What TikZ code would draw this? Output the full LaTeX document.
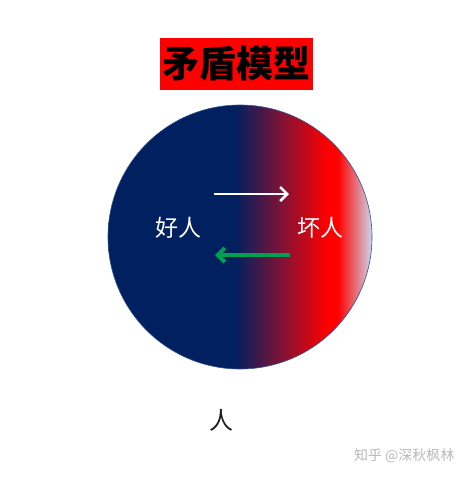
\documentclass[tikz,border=0pt]{standalone}
\usepackage{fontspec}
\usepackage{xcolor}
\usetikzlibrary{arrows.meta, positioning, calc}
\newfontfamily\cjk{Noto Sans CJK SC}
\definecolor{goodnavy}{RGB}{0, 32, 96}
\definecolor{badmaroon}{RGB}{130, 18, 52}
\definecolor{badred}{RGB}{255, 0, 0}
\definecolor{edgepale}{RGB}{205, 215, 235}
\definecolor{rimblue}{RGB}{47, 82, 143}
\definecolor{fightgreen}{RGB}{0, 160, 80}
\definecolor{inkdark}{RGB}{30, 30, 30}
\definecolor{markgray}{RGB}{185, 185, 185}
\pgfdeclarehorizontalshading{goodbad}{100bp}{color(0bp)=(goodnavy); color(49bp)=(goodnavy); color(58bp)=(badmaroon); color(66.5bp)=(badred); color(68.5bp)=(badred); color(75bp)=(edgepale); color(100bp)=(edgepale)}
\tikzset{
    titlebox/.style={
        rectangle, fill=red, minimum width=153pt, minimum height=52pt,
        inner sep=0pt, text=black, font=\cjk\bfseries\fontsize{37}{37}\selectfont
    },
    whole/.style={circle, minimum size=264pt, inner sep=0pt, draw=rimblue, line width=0.6pt, shading=goodbad},
    side/.style={text=white, font=\cjk\fontsize{23}{23}\selectfont},
    arrow/.style={-{Straight Barb[length=7pt, width=14pt]}, line width=2.6pt},
    caption/.style={text=inkdark, font=\cjk\fontsize{24}{24}\selectfont},
    watermark/.style={text=markgray, font=\cjk\fontsize{14}{14}\selectfont},
}
\begin{document}
\begin{tikzpicture}[x=1pt, y=-1pt]
    \useasboundingbox[fill=white] (0, 0) rectangle (465, 477);

    \node[titlebox] (title) at (236.5, 64) {矛盾模型};

    \node[whole] (man) at (240, 237) {};
    \node[side] (good) at (178, 228) {好人};
    \node[side] (bad) at (320, 228) {坏人};

    % good pushes right, bad pulls back
    \coordinate (goodfrom) at (214, 194);
    \coordinate (goodto) at (289, 194);
    \coordinate (badfrom) at (290, 255);
    \coordinate (badto) at (215, 255);
    \draw[arrow, white] (goodfrom) -- (goodto);
    \draw[arrow, fightgreen, line width=4pt] (badfrom) -- (badto);

    \node[caption] (person) at (221, 420) {人};
    \node[watermark, anchor=east] (mark) at (458, 456) {知乎 @深秋枫林};
\end{tikzpicture}
\end{document}
